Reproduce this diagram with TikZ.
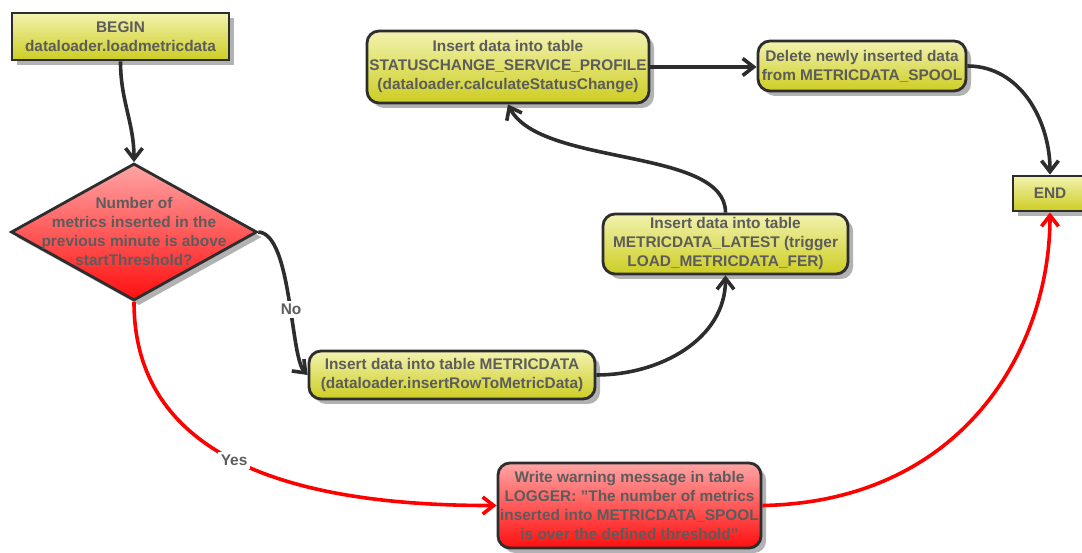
\documentclass[tikz,border=0pt]{standalone}
\usepackage{fontspec}
\setmainfont{Liberation Sans}
\usetikzlibrary{shapes.geometric,shadows,arrows.meta}

\definecolor{ytop}{RGB}{242,242,175}
\definecolor{ybot}{RGB}{205,205,35}
\definecolor{rtop}{RGB}{255,165,165}
\definecolor{rbot}{RGB}{255,15,15}
\definecolor{edge}{RGB}{45,45,45}
\definecolor{txt}{RGB}{92,92,92}
\definecolor{shadecol}{RGB}{178,178,178}
\definecolor{alarmred}{RGB}{255,0,0}

\tikzset{
  boxfont/.style={font=\fontsize{15.4}{19}\selectfont\bfseries, text=txt},
  base/.style={boxfont, draw=edge, line width=2.8pt, align=center, inner sep=0pt,
    drop shadow={shadow xshift=5pt, shadow yshift=-5pt, fill=shadecol, opacity=1}},
  yel/.style={base, top color=ytop, bottom color=ybot},
  redbox/.style={base, top color=rtop, bottom color=rbot},
  termbox/.style={yel, rectangle},
  stepbox/.style={yel, rounded corners=12pt},
  warnbox/.style={redbox, rounded corners=12pt},
  decision/.style={redbox, diamond, minimum width=246pt, minimum height=137pt},
  flow/.style={draw=edge, line width=3.6pt, -{Straight Barb[length=11pt,width=17pt]}},
  alarm/.style={draw=alarmred, line width=3.6pt, -{Straight Barb[length=11pt,width=17pt]}},
  lbl/.style={boxfont, fill=white, inner sep=3pt}
}

\begin{document}
\begin{tikzpicture}[x=1pt,y=1pt]
  \useasboundingbox (0,0) rectangle (1082,552);

  % nodes
  \node[termbox, minimum width=217pt, minimum height=47pt] (begin) at (120.5,515.5)
    {BEGIN\\dataloader.loadmetricdata};
  \node[decision] (dec) at (134,320) {};
  \node[boxfont, align=center] (dectext) at (134,321)
    {Number of\\metrics inserted in the\\previous minute is above\\startThreshold?};
  \node[stepbox, minimum width=286pt, minimum height=48pt] (mdata) at (452,177)
    {Insert data into table METRICDATA\\(dataloader.insertRowToMetricData)};
  \node[stepbox, minimum width=245pt, minimum height=60pt] (latest) at (725.5,308)
    {Insert data into table\\METRICDATA\_LATEST (trigger\\LOAD\_METRICDATA\_FER)};
  \node[stepbox, minimum width=282pt, minimum height=72pt] (status) at (508,485)
    {Insert data into table\\STATUSCHANGE\_SERVICE\_PROFILE\\(dataloader.calculateStatusChange)};
  \node[stepbox, minimum width=208pt, minimum height=50pt] (delete) at (862,486)
    {Delete newly inserted data\\from METRICDATA\_SPOOL};
  \node[termbox, minimum width=74pt, minimum height=35pt] (endn) at (1050,358.5) {END};
  \node[warnbox, minimum width=263pt, minimum height=85pt] (logger) at (629.5,46.5)
    {Write warning message in table\\LOGGER: "The number of metrics\\inserted into METRICDATA\_SPOOL\\is over the defined threshold"};

  % connectors
  \draw[flow] (begin.south) to[out=-90, in=90] (dec.north);
  \draw[flow] (dec.east) .. controls (292,318) and (290,195) .. (mdata.west)
    node[lbl, pos=0.56] (nolbl) {No};
  \draw[flow] (mdata.east) to[out=0, in=-90] (latest.south);
  \draw[flow] (latest.north) .. controls (725.5,405) and (540,385) .. (status.south);
  \draw[flow] (status.east) -- (status.east -| delete.west);
  \draw[flow] (delete.east) to[out=0, in=90] (endn.north);
  \draw[alarm] (dec.south) .. controls (134,100) and (280,46) .. (logger.west)
    node[lbl, pos=0.5] (yeslbl) {Yes};
  \draw[alarm] (logger.east) .. controls (960,50) and (1050,200) .. (endn.south);
\end{tikzpicture}
\end{document}
